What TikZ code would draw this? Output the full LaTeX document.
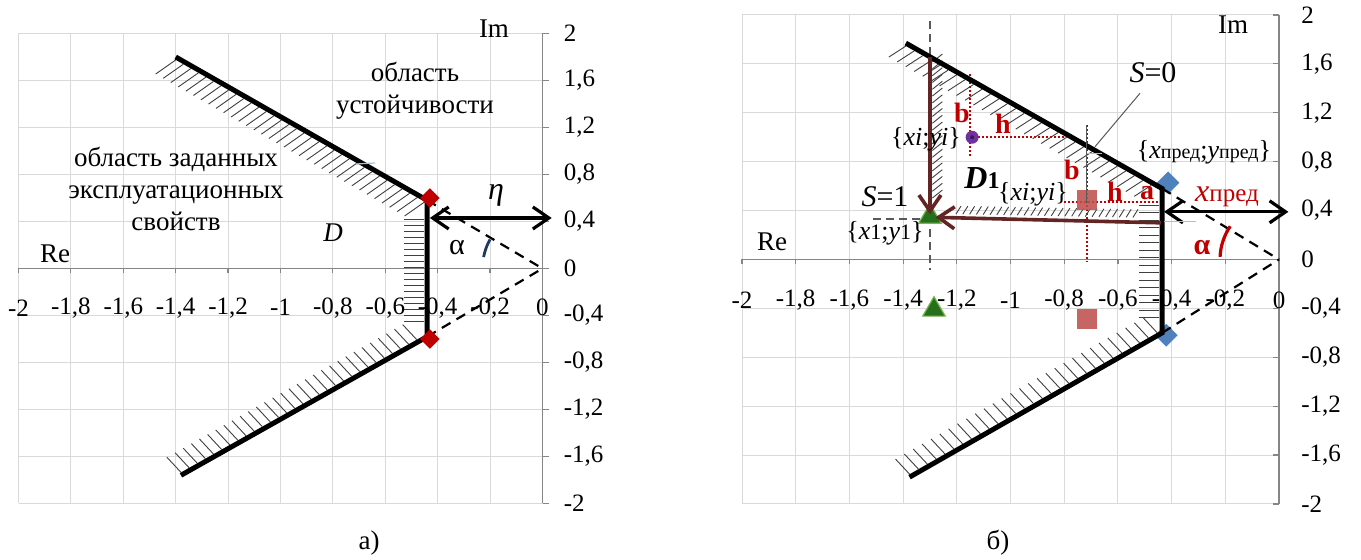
\documentclass[tikz,border=0pt]{standalone}
\usepackage{fontspec}
\setmainfont{Liberation Serif}
\usetikzlibrary{calc,arrows.meta,shapes.geometric}
\definecolor{gridc}{HTML}{D9D9D9}
\definecolor{axisc}{HTML}{868686}
\definecolor{brownc}{RGB}{99,37,35}
\definecolor{redc}{HTML}{C00000}
\definecolor{sqred}{HTML}{C0504D}
\definecolor{diablue}{HTML}{4F81BD}
\definecolor{trigreen}{RGB}{38,112,28}
\definecolor{trigreenl}{RGB}{120,180,80}
\definecolor{purp}{HTML}{7030A0}
\definecolor{navyc}{RGB}{31,56,100}
\definecolor{lblue}{HTML}{9DC3E6}
\tikzset{
 gridl/.style={gridc, line width=0.5pt},
 axisl/.style={axisc, line width=0.6pt},
 hatchl/.style={black!75, line width=0.45pt},
 thickl/.style={black, line width=2.5pt, line join=miter},
 dashl/.style={black, line width=1.1pt, dash pattern=on 5pt off 3.5pt},
 dblarrow/.style={black, line width=1.6pt, {Straight Barb[length=8pt,width=11pt]}-{Straight Barb[length=8pt,width=11pt]}},
 brownarrow/.style={brownc, line width=1.8pt, -{Straight Barb[length=8pt,width=11pt]}},
 reddot/.style={redc, line width=0.9pt, dash pattern=on 1pt off 1pt},
 grayleader/.style={black!65, line width=0.5pt},
 graydash/.style={black!65, line width=0.6pt, dash pattern=on 4pt off 2.5pt},
 bluel/.style={lblue, line width=0.6pt},
 tick/.style={inner sep=0, font=\fontsize{12.5}{14}\selectfont},
 lbl/.style={inner sep=0, font=\fontsize{13.5}{16}\selectfont, align=center},
 redb/.style={inner sep=0, text=redc, font=\fontsize{14}{16}\selectfont\bfseries},
 ldiam/.style={diamond, fill=redc, inner sep=0, minimum size=10pt},
 bdiam/.style={diamond, fill=diablue, inner sep=0, minimum size=11.5pt},
 rsq/.style={rectangle, fill=sqred, fill opacity=0.88, inner sep=0, minimum size=10pt},
 gtri/.style={regular polygon, regular polygon sides=3, fill=trigreen, draw=trigreenl, line width=0.6pt, inner sep=0, minimum size=13pt},
 pdot/.style={circle, fill=purp, inner sep=0, minimum size=6.5pt},
}
\begin{document}
\begin{tikzpicture}[x=0.5pt,y=-0.5pt]
\useasboundingbox (0,0) rectangle (1361,560);
\fill[white] (0,0) rectangle (1361,560);

% ================= LEFT PANEL =================
\begin{scope}[shift={(271.25pt,-134.25pt)},x=131pt,y=58.75pt]
 \foreach \i in {0,...,10} \draw[gridl] ({-2+0.2*\i},-2) -- ({-2+0.2*\i},2);
 \foreach \j in {0,...,10} \draw[gridl] (-2,{-2+0.4*\j}) -- (0,{-2+0.4*\j});
 \draw[axisl] (-2,0) -- (0,0);
 \draw[axisl] (0,-2) -- (0,2);
 \foreach \i in {0,...,10} \draw[axisl] ({-2+0.2*\i},0) -- ++(0,-2.5pt);
 \foreach \j in {0,...,10} \draw[axisl] (0,{-2+0.4*\j}) -- ++(3pt,0);
 \foreach \i/\l in {0/{-2},1/{-1,8},2/{-1,6},3/{-1,4},4/{-1,2},5/{-1},6/{-0,8},7/{-0,6},8/{-0,4},9/{-0,2},10/0}
   \node[tick] (lx\i) at ({-2+0.2*\i},-0.334) {\l};
 \foreach \j/\l in {0/{-2},1/{-1,6},2/{-1,2},3/{-0,8},4/{-0,4},5/0,6/{0,4},7/{0,8},8/{1,2},9/{1,6},10/2}
   \node[tick,anchor=west,xshift=10.5pt] (ly\j) at (0,{-2+0.4*\j}) {\l};

 \coordinate (LA) at (-1.4,1.8);
 \coordinate (LV1) at (-0.44,0.58);
 \coordinate (LV2) at (-0.44,-0.58);
 \coordinate (LB) at (-1.38,-1.76);
 \coordinate (LO) at (0,0);
 % hatching
 \foreach \t in {0,0.03,...,0.99} \draw[hatchl] ($(LA)!\t!(LV1)+(0,-1.5pt)$) -- ++(-10pt,-7pt);
 \foreach \t in {0,0.033,...,0.99} \draw[hatchl] ($(LB)!\t!(LV2)+(0,1.5pt)$) -- ++(-7pt,7.5pt);
 \foreach \i in {0,...,17} \draw[hatchl] ($(-0.44,0.42)+(-1.4pt,-\i*3pt)$) -- ++(-10pt,0);
 % boundary
 \draw[dashl] (LV1) -- (LO);
 \draw[dashl] (LV2) -- (LO);
 \draw[thickl] (LA) -- (LV1) -- (LV2) -- (LB);
 \node[ldiam] (LD1) at (-0.43,0.60) {};
 \node[ldiam] (LD2) at (-0.43,-0.60) {};
 \coordinate (Le1) at (-0.43,0.43);
 \coordinate (Le2) at (0.035,0.43);
 \draw[dblarrow] (Le1) -- (Le2);
 \draw[navyc, line width=1.4pt] (LO) ++(151:30pt) arc[start angle=151, end angle=169, radius=30pt];
\end{scope}
\draw[bluel] (356,164) -- (375,163);

\node[inner sep=0, font=\fontsize{13.5}{16}\selectfont] (LIm) at (494,29) {Im};
\node[inner sep=0, font=\fontsize{13.5}{16}\selectfont] (LRe) at (55,254) {Re};
\node[lbl] (Lst) at (415,90.5) {область\\устойчивости};
\node[lbl] (Lzd) at (176,189) {область заданных\\эксплуатационных\\свойств};
\node[inner sep=0, font=\fontsize{13.5}{16}\selectfont\itshape] (LD) at (333,233) {D};
\node[inner sep=0, font=\fontsize{16}{18}\selectfont\itshape] (Leta) at (496,195) {η};
\node[inner sep=0, font=\fontsize{15}{18}\selectfont] (Lalpha) at (457,248) {α};
\node[inner sep=0, font=\fontsize{13.5}{16}\selectfont] (Lcap) at (369,543) {а)};

% ================= RIGHT PANEL =================
\begin{scope}[shift={(639.5pt,-129.75pt)},x=134.25pt,y=61.125pt]
 \foreach \i in {0,...,10} \draw[gridl] ({-2+0.2*\i},-2) -- ({-2+0.2*\i},2);
 \foreach \j in {0,...,10} \draw[gridl] (-2,{-2+0.4*\j}) -- (0,{-2+0.4*\j});
 \draw[axisl] (-2,0) -- (0,0);
 \draw[axisl] (0,-2) -- (0,2);
 \foreach \i in {0,...,10} \draw[axisl] ({-2+0.2*\i},0) -- ++(0,-2.5pt);
 \foreach \j in {0,...,10} \draw[axisl] (0,{-2+0.4*\j}) -- ++(-3pt,0);
 \foreach \i/\l in {0/{-2},1/{-1,8},2/{-1,6},3/{-1,4},4/{-1,2},5/{-1},6/{-0,8},7/{-0,6},8/{-0,4},9/{-0,2},10/0}
   \node[tick] (rx\i) at ({-2+0.2*\i},-0.331) {\l};
 \foreach \j/\l in {0/{-2},1/{-1,6},2/{-1,2},3/{-0,8},4/{-0,4},5/0,6/{0,4},7/{0,8},8/{1,2},9/{1,6},10/2}
   \node[tick,anchor=west,xshift=11pt] (ry\j) at (0,{-2+0.4*\j}) {\l};

 \coordinate (RA) at (-1.39,1.77);
 \coordinate (RV1) at (-0.435,0.58);
 \coordinate (RV2) at (-0.435,-0.6);
 \coordinate (RB) at (-1.376,-1.78);
 \coordinate (RO) at (0,0);
 % dashed guides
 \draw[graydash] (-1.3,1.95) -- (-1.3,-0.09);
 \draw[graydash] (-1.512,0.331) -- (-1.3,0.331);
 % red dotted guides
 \draw[reddot] (-1.15,1.52) -- (-1.15,0.84);
 \draw[reddot] (-1.15,1.0) -- (-0.80,1.0);
 \draw[reddot] (-0.715,1.10) -- (-0.715,-0.02);
 \draw[reddot] (-0.80,0.47) -- (-0.43,0.47);
 % hatching
 \foreach \t in {0,0.033,...,0.99} \draw[hatchl] ($(RA)!\t!(RV1)+(0,-1.5pt)$) -- ++(-8.5pt,-5.5pt);
 \foreach \t in {0,0.035,...,0.99} \draw[hatchl] ($(RB)!\t!(RV2)+(0,1.5pt)$) -- ++(-7pt,7.5pt);
 \foreach \i in {0,...,15} \draw[hatchl] ($(-0.435,0.446)+(-1.4pt,-\i*3.75pt)$) -- ++(-10pt,0);
 \coordinate (RhP) at (-1.203,0.339);
 \coordinate (RhQ) at (-0.518,0.31);
 \foreach \t in {0,0.037,...,0.99} \draw[hatchl] ($(RhP)!\t!(RhQ)+(0,2pt)$) -- ++(2.5pt,4pt);
 \foreach \i in {0,...,20} \draw[hatchl] ($(-1.3,1.615)+(1.2pt,-\i*3.4pt)$) -- ++(5pt,4pt);
 % markers (lower)
 \node[gtri] (Rtri2) at (-1.285,-0.41) {};
 \node[rsq] (Rsq2) at (-0.715,-0.49) {};
 \node[bdiam] (Rdia1) at (-0.413,0.628) {};
 \node[bdiam] (Rdia2) at (-0.42,-0.62) {};
 % boundary
 \draw[dashl] (RV1) -- (RO);
 \draw[dashl] (RV2) -- (RO);
 \draw[thickl] (RA) -- (RV1) -- (RV2) -- (RB);
 \coordinate (Re1) at (-0.428,0.39);
 \coordinate (Re2) at (0.035,0.39);
 \draw[dblarrow] (Re1) -- (Re2);
 \draw[redc, line width=1.6pt] (RO) ++(145.7:29.5pt) arc[start angle=145.7, end angle=177.4, radius=29.5pt];
 % points
 \node[gtri] (Rtri1) at (-1.3,0.35) {};
 \node[rsq] (Rsq1) at (-0.715,0.49) {};
 \node[pdot] (Rpur) at (-1.143,1.0) {};
 \fill[purp!50!black] (Rpur) circle[radius=1pt];
 % brown arrows
 \coordinate (RbT) at (-1.3,1.658);
 \coordinate (RbE) at (-1.3,0.37);
 \coordinate (RhR) at (-0.44,0.30);
 \coordinate (RhL) at (-1.28,0.345);
 \draw[brownarrow] (RbT) -- (RbE);
 \draw[brownarrow] (RhR) -- (RhL);
\end{scope}
% leader and small artefacts
\coordinate (S0a) at (1140,93.3);
\coordinate (S0b) at (1095,146.7);
\draw[grayleader] (S0a) -- (S0b);
\draw[grayleader] (1086.7,125) -- (1086.7,203);
\draw[bluel] (1087,153.3) -- (1102,153.3);
\draw[bluel] (1164,221.7) -- (1196,221.7);

\node[inner sep=0, font=\fontsize{13.5}{16}\selectfont] (RIm) at (1233,25) {Im};
\node[inner sep=0, font=\fontsize{13.5}{16}\selectfont] (RRe) at (772,242) {Re};
\node[inner sep=0, font=\fontsize{15}{18}\selectfont] (RS0) at (1153,73) {\textit{S}=0};
\node[inner sep=0, font=\fontsize{15}{18}\selectfont] (RS1) at (885,197) {\textit{S}=1};
\node[inner sep=0, font=\fontsize{13}{16}\selectfont] (Rx1) at (885,233) {\{\textit{x}{\fontsize{11}{13}\selectfont 1};\textit{y}{\fontsize{11}{13}\selectfont 1}\}};
\node[inner sep=0, font=\fontsize{13}{16}\selectfont] (Rxi1) at (926,139) {\{\textit{xi};\textit{yi}\}};
\node[inner sep=0, font=\fontsize{13}{16}\selectfont] (Rxi2) at (1033,194) {\{\textit{xi};\textit{yi}\}};
\node[inner sep=0] (RD1) at (982,178) {{\fontsize{16}{18}\selectfont\bfseries\itshape D}{\fontsize{12}{14}\selectfont\bfseries 1}};
\node[inner sep=0, font=\fontsize{13}{16}\selectfont] (Rxp) at (1204,152) {\{\textit{x}{\fontsize{10}{12}\selectfont пред};\textit{y}{\fontsize{10}{12}\selectfont пред}\}};
\node[inner sep=0, text=redc] (Rxpr) at (1227,197) {{\fontsize{16}{18}\selectfont\itshape x}{\fontsize{12.5}{14}\selectfont пред}};
\node[inner sep=0, text=redc, font=\fontsize{15}{18}\selectfont\bfseries] (Ralpha) at (1202,248) {α};
\node[redb] (Rb1) at (962,113) {b};
\node[redb] (Rh1) at (1003,124) {h};
\node[redb] (Rb2) at (1072,170) {b};
\node[redb] (Rh2) at (1115,192) {h};
\node[redb] (Ra) at (1147,193) {a};
\node[inner sep=0, font=\fontsize{13.5}{16}\selectfont] (Rcap) at (998,543) {б)};
\end{tikzpicture}
\end{document}
